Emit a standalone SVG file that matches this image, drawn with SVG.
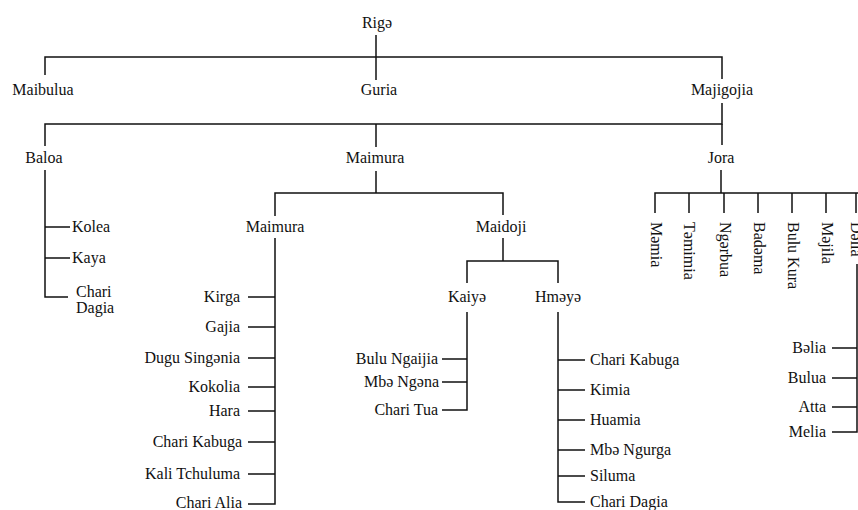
<svg xmlns="http://www.w3.org/2000/svg" width="858" height="510" viewBox="0 0 858 510">
<style>
text{font-family:"Liberation Serif","Tinos","Times New Roman","DejaVu Serif",serif;font-size:16px;fill:#111}
.c{text-anchor:middle}
.e{text-anchor:end}
.conn path{stroke:#111;stroke-width:1.5;fill:none}
</style>
<rect width="858" height="510" fill="#fff"/>
<g id="connectors" class="conn">
<path d="M376 35V80"/>
<path d="M45 75V57H722V79"/>
<path d="M722 103V124H45V146"/>
<path d="M376 124V147"/>
<path d="M722 124V145"/>
<path d="M45 170V297H68"/>
<path d="M45 227H70M45 258H70"/>
<path d="M376 171V193"/>
<path d="M275 216V193H503V215"/>
<path d="M275 238V504H248"/>
<path d="M248 297H275M248 327H275M248 358H275M248 387H275M248 411H275M248 442H275M248 474H275"/>
<path d="M503 238V261"/>
<path d="M467 283V261H558V283"/>
<path d="M467 312V410H442"/>
<path d="M442 359H467M442 382H467"/>
<path d="M558 312V502H585"/>
<path d="M558 360H585M558 390H585M558 420H585M558 450H585M558 476H585"/>
<path d="M721 170V193"/>
<path d="M655 213V193H858"/>
<path d="M689 193V213M724 193V213M758 193V213M792 193V213M826 193V213M856 193V213"/>
<path d="M857 264V432H832"/>
<path d="M832 348H857M832 378H857M832 407H857"/>
</g>
<g id="rige"><text class="c" x="377" y="28">Rigə</text></g>
<g id="maibulua"><text class="c" x="43" y="95">Maibulua</text></g>
<g id="guria"><text class="c" x="379" y="95">Guria</text></g>
<g id="majigojia"><text class="c" x="722" y="95">Majigojia</text></g>
<g id="baloa"><text class="c" x="44" y="163">Baloa</text></g>
<g id="maimura"><text class="c" x="375" y="163">Maimura</text></g>
<g id="jora"><text class="c" x="721" y="163">Jora</text></g>
<g id="kolea"><text x="72" y="232">Kolea</text></g>
<g id="kaya"><text x="72" y="263">Kaya</text></g>
<g id="chari-dagia-1"><text x="76" y="297">Chari</text><text x="76" y="313">Dagia</text></g>
<g id="maimura-2"><text class="c" x="275" y="232">Maimura</text></g>
<g id="maidoji"><text class="c" x="501" y="232">Maidoji</text></g>
<g id="kirga"><text class="e" x="240" y="302">Kirga</text></g>
<g id="gajia"><text class="e" x="240" y="332">Gajia</text></g>
<g id="dugu-singenia"><text class="e" x="240" y="363">Dugu Singənia</text></g>
<g id="kokolia"><text class="e" x="240" y="392">Kokolia</text></g>
<g id="hara"><text class="e" x="240" y="416">Hara</text></g>
<g id="chari-kabuga-1"><text class="e" x="242" y="447">Chari Kabuga</text></g>
<g id="kali-tchuluma"><text class="e" x="240" y="479">Kali Tchuluma</text></g>
<g id="chari-alia"><text class="e" x="242" y="508">Chari Alia</text></g>
<g id="kaiye"><text class="c" x="467" y="302">Kaiyə</text></g>
<g id="hmeye"><text class="c" x="558" y="302">Hməyə</text></g>
<g id="bulu-ngaijia"><text class="e" x="438" y="364">Bulu Ngaijia</text></g>
<g id="mbe-ngena"><text class="e" x="439" y="387">Mbə Ngəna</text></g>
<g id="chari-tua"><text class="e" x="438" y="415">Chari Tua</text></g>
<g id="chari-kabuga-2"><text x="590" y="365">Chari Kabuga</text></g>
<g id="kimia"><text x="590" y="395">Kimia</text></g>
<g id="huamia"><text x="590" y="425">Huamia</text></g>
<g id="mbe-ngurga"><text x="590" y="455">Mbə Ngurga</text></g>
<g id="siluma"><text x="590" y="481">Siluma</text></g>
<g id="chari-dagia-2"><text x="590" y="507">Chari Dagia</text></g>
<g id="memia"><text transform="translate(651,222) rotate(90)">Məmia</text></g>
<g id="temimia"><text transform="translate(684,222) rotate(90)">Təmimia</text></g>
<g id="ngerbua"><text transform="translate(720,222) rotate(90)">Ngərbua</text></g>
<g id="badema"><text transform="translate(754,222) rotate(90)">Badəma</text></g>
<g id="bulu-kura"><text transform="translate(788,222) rotate(90)">Bulu Kura</text></g>
<g id="mejila"><text transform="translate(822,222) rotate(90)">Məjila</text></g>
<g id="della"><text transform="translate(851,222) rotate(90)">Dəlla</text></g>
<g id="belia"><text class="e" x="826" y="353">Bəlia</text></g>
<g id="bulua"><text class="e" x="826" y="383">Bulua</text></g>
<g id="atta"><text class="e" x="826" y="412">Atta</text></g>
<g id="melia"><text class="e" x="826" y="437">Melia</text></g>
</svg>
